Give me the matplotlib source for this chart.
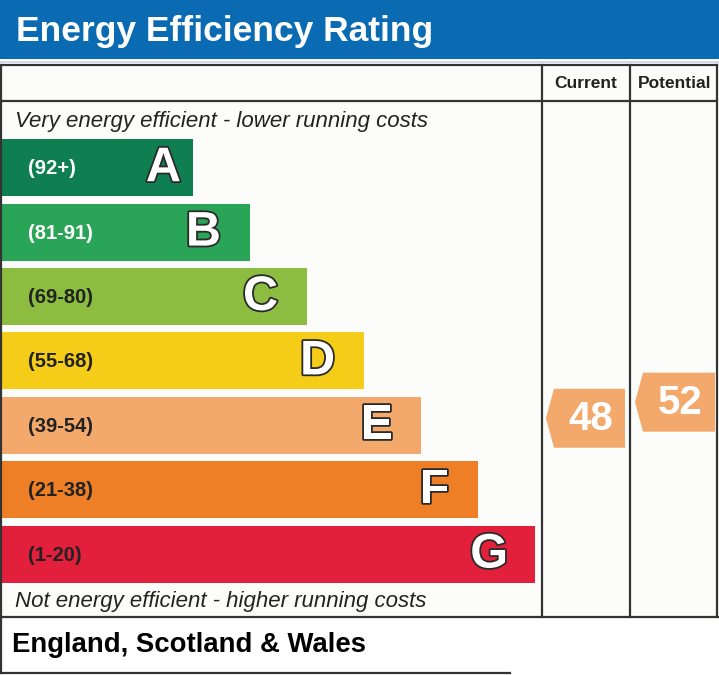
import matplotlib as mpl
mpl.use('Agg')

import matplotlib.pyplot as plt
import matplotlib.patches as mpatches
import matplotlib.patheffects as pe

# Bands of the rating
bands = ["A", "B", "C", "D", "E", "F", "G"]
ranges = ["(92+)", "(81-91)", "(69-80)", "(55-68)", "(39-54)", "(21-38)", "(1-20)"]
band_lo = [92, 81, 69, 55, 39, 21, 1]
band_hi = [100, 91, 80, 68, 54, 38, 20]
band_colors = ["#0f7f52", "#2aa557", "#8cbd41", "#f5cd18", "#f3a96c", "#ee7f27", "#e2203c"]
range_colors = ["white", "white", "#222222", "#222222", "#222222", "#222222", "#222222"]

current = 48
potential = 52

title = "Energy Efficiency Rating"
top_note = "Very energy efficient - lower running costs"
bottom_note = "Not energy efficient - higher running costs"
region = "England, Scotland & Wales"

# Layout in pixels
W, H = 719, 675
blue = "#0a6bb3"
line_color = "#333333"
arrow_color = "#f3a96c"
row_top = 135.5
row_pitch = 64.4
bar_h = 57
bar_w0 = 193
bar_step = 57
letter_pad = [12, 29, 29, 29, 28, 29, 27]
col1, col2, right = 542, 630, 717
tab_top, head_bot, tab_bot = 65, 101, 617

fig = plt.figure(figsize=(W / 100, H / 100), dpi=100)
ax = fig.add_axes([0, 0, 1, 1])
ax.set_xlim(0, W)
ax.set_ylim(H, 0)
ax.axis('off')

font = "Liberation Sans"
stroke = [pe.withStroke(linewidth=2.6, foreground="#2a2a2a")]

# Header
ax.add_patch(mpatches.Rectangle((0, 0), W, 59, color=blue, lw=0))
ax.plot([0, W], [61.5, 61.5], color="#c9d6e3", lw=1.2)
ax.text(16, 31, title, color="white", fontsize=25.5, fontweight="bold",
        family=font, va="center", ha="left")

# Table background and lines
ax.add_patch(mpatches.Rectangle((1, tab_top), right - 1, tab_bot - tab_top,
                                facecolor="#fcfcfa", lw=0))
lw = 1.6
ax.plot([1, right], [tab_top, tab_top], color=line_color, lw=lw)
ax.plot([1, right], [head_bot, head_bot], color=line_color, lw=lw)
ax.plot([0, right + 1], [tab_bot, tab_bot], color=line_color, lw=lw)
for x in [1, col1, col2, right]:
    ax.plot([x, x], [tab_top, tab_bot], color=line_color, lw=lw)
ax.plot([1, 1], [tab_bot, 673], color=line_color, lw=lw)
ax.plot([0, 510], [673, 673], color=line_color, lw=lw)

ax.text((col1 + col2) / 2, 84, "Current", fontsize=12.5, fontweight="bold",
        family=font, ha="center", va="center", color="#222222")
ax.text((col2 + right) / 2 + 1, 84, "Potential", fontsize=12.5, fontweight="bold",
        family=font, ha="center", va="center", color="#222222")

ax.text(15, 121, top_note, fontsize=16, style="italic", family=font,
        ha="left", va="center", color="#222222")
ax.text(15, 601, bottom_note, fontsize=16, style="italic", family=font,
        ha="left", va="center", color="#222222")

# Bars
centers = [row_top + row_pitch * i + row_pitch / 2 for i in range(len(bands))]
widths = [bar_w0 + bar_step * i for i in range(len(bands))]
ax.barh(centers, widths, height=bar_h, left=0, color=band_colors, lw=0)

for i, b in enumerate(bands):
    ax.text(28, centers[i] + 1, ranges[i], fontsize=14.5, fontweight="bold",
            family=font, color=range_colors[i], ha="left", va="center")
    ax.text(widths[i] - letter_pad[i], centers[i] + 1, b, fontsize=35,
            fontweight="bold", family=font, color="white", ha="right",
            va="center", path_effects=stroke)


def score_y(score):
    for i in range(len(bands)):
        if band_lo[i] <= score <= band_hi[i]:
            frac = (band_hi[i] + 0.5 - score) / (band_hi[i] - band_lo[i] + 1)
            return row_top + row_pitch * i + frac * row_pitch
    return centers[-1]


def arrow(x0, x1, score):
    yc = score_y(score) - 1
    h = 59
    tip = 8
    pts = [(x0, yc), (x0 + tip, yc - h / 2), (x1, yc - h / 2),
           (x1, yc + h / 2), (x0 + tip, yc + h / 2)]
    ax.add_patch(mpatches.Polygon(pts, closed=True, color=arrow_color, lw=0))
    ax.text((x0 + tip + x1) / 2 + 1, yc + 1, str(score), fontsize=29,
            fontweight="bold", family=font, color="white", ha="center",
            va="center")


arrow(546, 625, current)
arrow(635, 715, potential)

ax.text(12, 645, region, fontsize=19.8, fontweight="bold", family=font,
        ha="left", va="center", color="black")

plt.savefig("out.png", dpi=100)
plt.close()
